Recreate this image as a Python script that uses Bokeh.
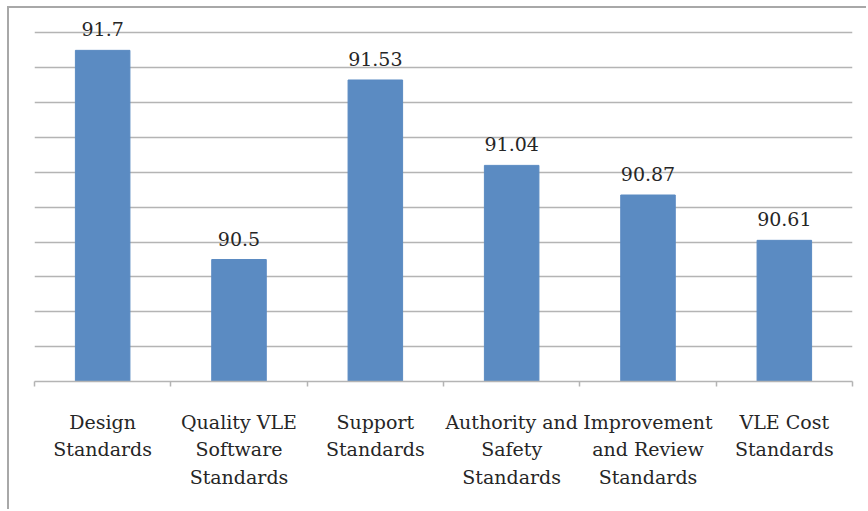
from bokeh.plotting import figure
from bokeh.models import ColumnDataSource, FixedTicker, Range1d
from bokeh.core.properties import value
from bokeh.embed import file_html
from bokeh.resources import INLINE

categories = ["Design\nStandards", "Quality VLE\nSoftware\nStandards", "Support\nStandards",
              "Authority and\nSafety\nStandards", "Improvement\nand Review\nStandards",
              "VLE Cost\nStandards"]
values = [91.7, 90.5, 91.53, 91.04, 90.87, 90.61]
value_labels = ["91.7", "90.5", "91.53", "91.04", "90.87", "90.61"]
grid_ticks = [89.8, 90.0, 90.2, 90.4, 90.6, 90.8, 91.0, 91.2, 91.4, 91.6, 91.8]

n = len(categories)
xs = [i + 0.5 for i in range(n)]
src = ColumnDataSource(dict(x=xs, top=values, lab=value_labels))

FONT = "DejaVu Serif"
GRAY = "#b4b4b4"

p = figure(width=859, height=503, output_backend="svg", toolbar_location=None,
           x_range=Range1d(0, n), y_range=Range1d(89.8, 91.9),
           min_border_left=25, min_border_right=16, min_border_top=7, min_border_bottom=130)
p.styles = {"border-left": "2px solid #a8a8a8", "border-top": "2px solid #a8a8a8",
            "margin-left": "7px", "margin-top": "6px"}
p.outline_line_color = None
p.background_fill_color = "white"
p.border_fill_color = "white"

p.vbar(x="x", top="top", bottom=89.8, width=0.4, source=src,
       fill_color="#5b8bc2", line_color="#5b8bc2")
p.text(x="x", y="top", text="lab", source=src, y_offset=-21,
       text_align="center", text_baseline="alphabetic",
       text_font=value(FONT), text_font_size="19px", text_color="#262626")

p.yaxis.visible = False
p.xgrid.visible = False
p.ygrid.ticker = FixedTicker(ticks=grid_ticks)
p.ygrid.grid_line_color = GRAY
p.ygrid.grid_line_width = 1.5

xa = p.xaxis[0]
xa.ticker = FixedTicker(ticks=xs, minor_ticks=list(range(n + 1)))
xa.major_label_overrides = {x: c for x, c in zip(xs, categories)}
xa.major_tick_line_color = None
xa.major_tick_out = 0
xa.major_tick_in = 0
xa.minor_tick_line_color = GRAY
xa.minor_tick_line_width = 1.5
xa.minor_tick_out = 5
xa.minor_tick_in = 0
xa.axis_line_color = GRAY
xa.axis_line_width = 1.5
xa.major_label_standoff = 24
xa.major_label_text_font = FONT
xa.major_label_text_font_size = "19px"
xa.major_label_text_color = "#262626"
xa.major_label_text_line_height = 1.25

open("out.html", "w").write(file_html(p, INLINE))
